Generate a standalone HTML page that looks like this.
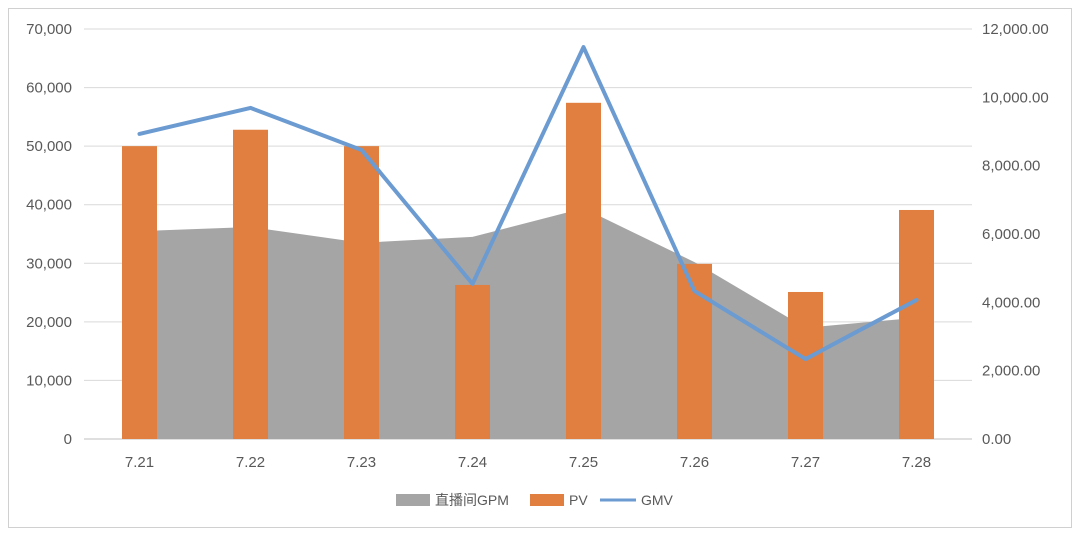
<!DOCTYPE html>
<html><head><meta charset="utf-8"><style>
html,body{margin:0;padding:0;background:#fff;}
svg{display:block;font-family:"Liberation Sans","Noto Sans CJK SC",sans-serif;}
</style></head><body>
<svg id="chart" width="1080" height="536" viewBox="0 0 1080 536" xmlns="http://www.w3.org/2000/svg">
<rect x="8.5" y="8.5" width="1063" height="519" fill="#fff" stroke="#d0d0d0"/>
<g id="grid"></g><g id="area"></g><g id="bars"></g><g id="line"></g><g id="axes"></g>
<g font-size="14" fill="#595959">
<rect x="396" y="494" width="34" height="12" fill="#a5a5a5"/>
<text x="435" y="505">直播间GPM</text>
<rect x="530" y="494" width="34" height="12" fill="#e07f3f"/>
<text x="569" y="505">PV</text>
<line x1="600" y1="500" x2="636" y2="500" stroke="#6b9bd1" stroke-width="3"/>
<text x="641" y="505">GMV</text>
</g>
</svg>
<script>
const categories=["7.21","7.22","7.23","7.24","7.25","7.26","7.27","7.28"];
const gpmValues=[35500,36200,33500,34500,39400,30200,19000,20700];
const pvValues=[50000,52800,50000,26300,57400,29900,25100,39100];
const gmvValues=[8930,9690,8460,4540,11470,4330,2340,4070];
const leftTicks=[0,10000,20000,30000,40000,50000,60000,70000];
const rightTicks=[0,2000,4000,6000,8000,10000,12000];
const NS="http://www.w3.org/2000/svg";
const X0=84,X1=972,Y0=439,Y1=29;
const step=(X1-X0)/categories.length;
const xc=i=>X0+step*(i+0.5);
const yL=v=>Y0-(v/70000)*(Y0-Y1);
const yR=v=>Y0-(v/12000)*(Y0-Y1);
function mk(tag,attrs,parent){const e=document.createElementNS(NS,tag);for(const k in attrs)e.setAttribute(k,attrs[k]);document.getElementById(parent).appendChild(e);return e;}
leftTicks.forEach((t,i)=>{
  const g=mk("line",{x1:X0,x2:X1,y1:yL(t),y2:yL(t),stroke:i===0?"#bfbfbf":"#d9d9d9"},"grid");
  
  
  const tx=mk("text",{x:72,y:yL(t)+5,"text-anchor":"end","font-size":"15",fill:"#595959"},"axes");
  tx.textContent=t.toLocaleString("en-US");
  
  
});
rightTicks.forEach(t=>{
  const tx=mk("text",{x:982,y:yR(t)+5,"text-anchor":"start","font-size":"15",fill:"#595959"},"axes");
  tx.textContent=t.toLocaleString("en-US",{minimumFractionDigits:2,maximumFractionDigits:2});
  
  
});
categories.forEach((c,i)=>{
  const tx=mk("text",{x:xc(i),y:467,"text-anchor":"middle","font-size":"15",fill:"#595959"},"axes");
  tx.textContent=c;
  
  
});
let d="M"+xc(0)+","+Y0;
gpmValues.forEach((v,i)=>{d+=" L"+xc(i)+","+yL(v);});
d+=" L"+xc(gpmValues.length-1)+","+Y0+" Z";
const a=mk("path",{d:d,fill:"#a5a5a5"},"area");


const bw=35;
pvValues.forEach((v,i)=>{
  const b=mk("rect",{x:xc(i)-bw/2,y:yL(v),width:bw,height:Y0-yL(v),fill:"#e07f3f"},"bars");
  
  
});
const pts=gmvValues.map((v,i)=>xc(i)+","+yR(v)).join(" ");
const l=mk("polyline",{points:pts,fill:"none",stroke:"#6b9bd1","stroke-width":"4","stroke-linejoin":"round","stroke-linecap":"round"},"line");


</script>
</body></html>
